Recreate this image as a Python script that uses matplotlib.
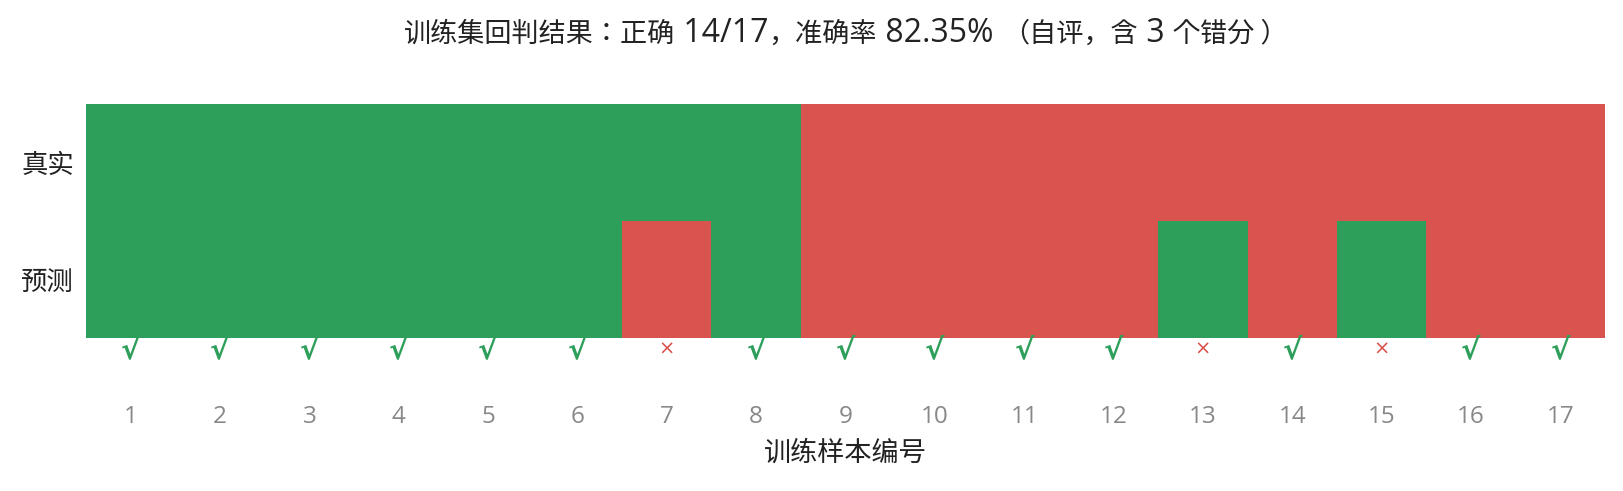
import matplotlib.pyplot as plt
import numpy as np
from matplotlib.colors import ListedColormap
from matplotlib.offsetbox import TextArea, HPacker, AnchoredOffsetbox

plt.rcParams['font.family'] = ['Open Sans', 'Noto Sans CJK JP', 'DejaVu Sans']

# 1 = 正类(绿), 0 = 负类(红)
samples = list(range(1, 18))
true_labels = [1, 1, 1, 1, 1, 1, 1, 1, 0, 0, 0, 0, 0, 0, 0, 0, 0]
pred_labels = [1, 1, 1, 1, 1, 1, 0, 1, 0, 0, 0, 0, 1, 0, 1, 0, 0]
row_names = ['真实', '预测']
n_correct = sum(t == p for t, p in zip(true_labels, pred_labels))

green = '#2e9f5b'
red = '#d9534f'
dark = '#222222'
cjk = ['Noto Sans CJK JP', 'DejaVu Sans']
latin = ['Open Sans', 'Noto Sans CJK JP', 'DejaVu Sans']

W, H = 1624, 491
fig = plt.figure(figsize=(W / 100, H / 100), dpi=100)
left, right, top, bottom = 86, 1605, 104, 337.5
ax = fig.add_axes([left / W, 1 - bottom / H, (right - left) / W, (bottom - top) / H])
ax_h = bottom - top

grid = np.array([true_labels, pred_labels])
ax.pcolormesh(np.arange(len(samples) + 1) + 0.5, [0, 1, 2], grid,
              cmap=ListedColormap([red, green]), vmin=0, vmax=1)
ax.set_xlim(0.5, len(samples) + 0.5)
ax.set_ylim(2, 0)

# 对错标记
for i, s in enumerate(samples):
    if true_labels[i] == pred_labels[i]:
        ax.text(s, 2.11, '√', color=green, fontsize=21, fontweight='bold',
                ha='center', va='center', family=['DejaVu Sans'], clip_on=False)
    else:
        ax.text(s, 2.1, '×', color=red, fontsize=14,
                ha='center', va='center', family=['DejaVu Sans'], clip_on=False)

ax.set_xticks(samples)
ax.set_xticklabels([str(s) for s in samples], color='#888888', fontsize=17.5,
                   va='center')
ax.tick_params(axis='x', length=0, pad=(417 - bottom) / 1.389)
ax.set_yticks([0.5, 1.5])
ax.set_yticklabels(row_names, fontsize=19, color=dark, family=cjk)
ax.tick_params(axis='y', length=0, pad=8.5)
for sp in ax.spines.values():
    sp.set_visible(False)

ax.set_xlabel('训练样本编号', fontsize=19.5, color=dark, family=cjk)
ax.xaxis.set_label_coords(0.5, -(453 - bottom) / ax_h)
ax.xaxis.label.set_va('center')

# 标题：中文与数字字号不同，分段拼接
acc = n_correct / len(samples) * 100
pieces = [
    ('训练集回判结果：正确', cjk, 19.5),
    (f' {n_correct}/{len(samples)}', latin, 23),
    ('，准确率', cjk, 19.5),
    (f' {acc:.2f}% ', latin, 23),
    ('（自评，含', cjk, 19.5),
    (f' {len(samples) - n_correct} ', latin, 23),
    ('个错分 ）', cjk, 19.5),
]
areas = [TextArea(t, textprops=dict(family=f, fontsize=fs, color=dark))
         for t, f, fs in pieces]
title_box = HPacker(children=areas, align='baseline', pad=0, sep=0)
anchored = AnchoredOffsetbox(loc='center', child=title_box, pad=0, borderpad=0,
                             frameon=False, bbox_to_anchor=(0.5, 1 + (top - 33) / ax_h),
                             bbox_transform=ax.transAxes)
ax.add_artist(anchored)

fig.savefig('out.png', dpi=100)
